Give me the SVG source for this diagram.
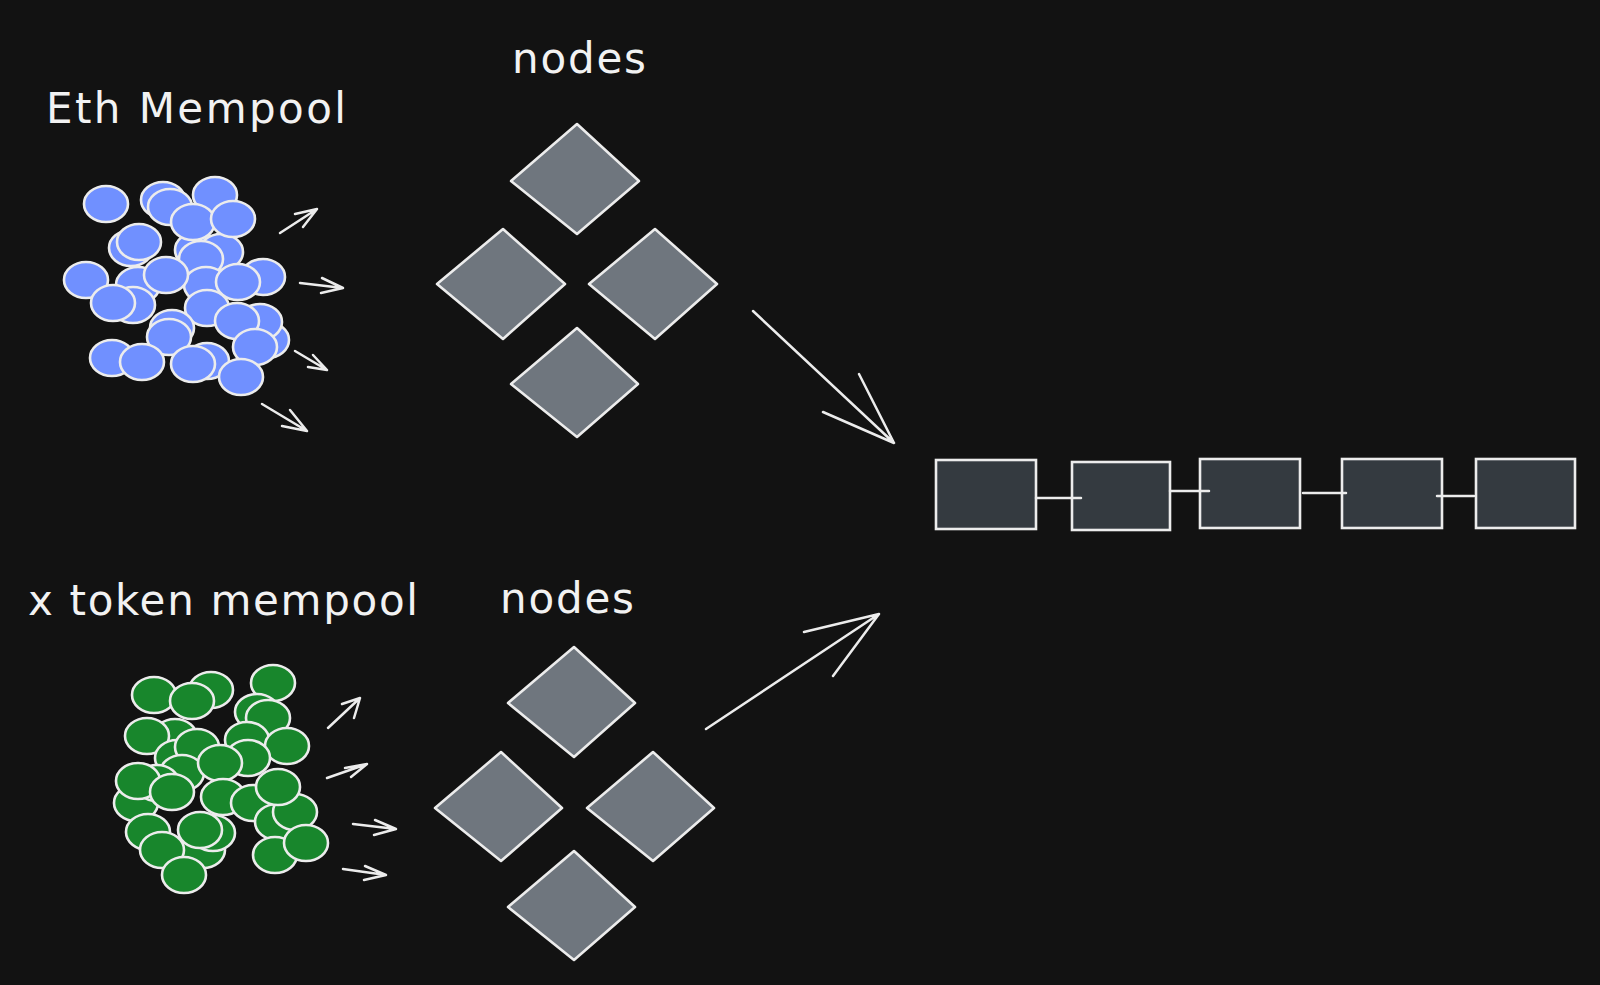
<svg xmlns="http://www.w3.org/2000/svg" width="1600" height="985" viewBox="0 0 1600 985">
<style>
.bg{fill:#121212}
.t{font-family:"DejaVu Sans","Liberation Sans",sans-serif;font-size:42px;fill:#f2f2f2}
.b{fill:#7090ff;stroke:#ececec;stroke-width:2.6}
.g{fill:#18862c;stroke:#ececec;stroke-width:2.6}
.d{fill:#6f767e;stroke:#ececec;stroke-width:2.6;stroke-linejoin:round}
.blk{fill:#343a40;stroke:#ececec;stroke-width:2.6}
.ln{fill:none;stroke:#ececec;stroke-width:2.5;stroke-linecap:round;stroke-linejoin:round}
</style>
<rect class="bg" x="0" y="0" width="1600" height="985"/>

<g id="title-eth"><text class="t" x="46" y="123" textLength="300" lengthAdjust="spacing">Eth Mempool</text></g>
<g id="title-nodes-top"><text class="t" x="512" y="73" textLength="134" lengthAdjust="spacing">nodes</text></g>
<g id="title-x"><text class="t" x="28" y="615" textLength="390" lengthAdjust="spacing">x token mempool</text></g>
<g id="title-nodes-bottom"><text class="t" x="500" y="613" textLength="134" lengthAdjust="spacing">nodes</text></g>

<g id="eth-mempool">
<ellipse class="b" cx="106" cy="204" rx="22" ry="18"/>
<ellipse class="b" cx="163" cy="200" rx="22" ry="18"/>
<ellipse class="b" cx="170" cy="207" rx="22" ry="18"/>
<ellipse class="b" cx="215" cy="195" rx="22" ry="18"/>
<ellipse class="b" cx="131" cy="248" rx="22" ry="18"/>
<ellipse class="b" cx="139" cy="242" rx="22" ry="18"/>
<ellipse class="b" cx="197" cy="250" rx="22" ry="18"/>
<ellipse class="b" cx="221" cy="252" rx="22" ry="18"/>
<ellipse class="b" cx="201" cy="259" rx="22" ry="18"/>
<ellipse class="b" cx="193" cy="222" rx="22" ry="18"/>
<ellipse class="b" cx="233" cy="219" rx="22" ry="18"/>
<ellipse class="b" cx="86" cy="280" rx="22" ry="18"/>
<ellipse class="b" cx="138" cy="285" rx="22" ry="18"/>
<ellipse class="b" cx="133" cy="305" rx="22" ry="18"/>
<ellipse class="b" cx="113" cy="303" rx="22" ry="18"/>
<ellipse class="b" cx="206" cy="285" rx="22" ry="18"/>
<ellipse class="b" cx="166" cy="275" rx="22" ry="18"/>
<ellipse class="b" cx="263" cy="277" rx="22" ry="18"/>
<ellipse class="b" cx="238" cy="282" rx="22" ry="18"/>
<ellipse class="b" cx="207" cy="308" rx="22" ry="18"/>
<ellipse class="b" cx="267" cy="340" rx="22" ry="18"/>
<ellipse class="b" cx="260" cy="322" rx="22" ry="18"/>
<ellipse class="b" cx="237" cy="321" rx="22" ry="18"/>
<ellipse class="b" cx="255" cy="347" rx="22" ry="18"/>
<ellipse class="b" cx="172" cy="328" rx="22" ry="18"/>
<ellipse class="b" cx="169" cy="337" rx="22" ry="18"/>
<ellipse class="b" cx="112" cy="358" rx="22" ry="18"/>
<ellipse class="b" cx="142" cy="362" rx="22" ry="18"/>
<ellipse class="b" cx="207" cy="361" rx="22" ry="18"/>
<ellipse class="b" cx="193" cy="364" rx="22" ry="18"/>
<ellipse class="b" cx="241" cy="377" rx="22" ry="18"/>
</g>

<g id="x-token-mempool">
<ellipse class="g" cx="211" cy="690" rx="22" ry="18"/>
<ellipse class="g" cx="154" cy="695" rx="22" ry="18"/>
<ellipse class="g" cx="192" cy="701" rx="22" ry="18"/>
<ellipse class="g" cx="273" cy="683" rx="22" ry="18"/>
<ellipse class="g" cx="257" cy="712" rx="22" ry="18"/>
<ellipse class="g" cx="268" cy="718" rx="22" ry="18"/>
<ellipse class="g" cx="175" cy="737" rx="22" ry="18"/>
<ellipse class="g" cx="147" cy="736" rx="22" ry="18"/>
<ellipse class="g" cx="247" cy="740" rx="22" ry="18"/>
<ellipse class="g" cx="287" cy="746" rx="22" ry="18"/>
<ellipse class="g" cx="177" cy="758" rx="22" ry="18"/>
<ellipse class="g" cx="197" cy="747" rx="22" ry="18"/>
<ellipse class="g" cx="248" cy="758" rx="22" ry="18"/>
<ellipse class="g" cx="182" cy="773" rx="22" ry="18"/>
<ellipse class="g" cx="220" cy="763" rx="22" ry="18"/>
<ellipse class="g" cx="136" cy="803" rx="22" ry="18"/>
<ellipse class="g" cx="157" cy="783" rx="22" ry="18"/>
<ellipse class="g" cx="138" cy="781" rx="22" ry="18"/>
<ellipse class="g" cx="172" cy="792" rx="22" ry="18"/>
<ellipse class="g" cx="223" cy="797" rx="22" ry="18"/>
<ellipse class="g" cx="253" cy="803" rx="22" ry="18"/>
<ellipse class="g" cx="277" cy="822" rx="22" ry="18"/>
<ellipse class="g" cx="295" cy="812" rx="22" ry="18"/>
<ellipse class="g" cx="278" cy="787" rx="22" ry="18"/>
<ellipse class="g" cx="148" cy="832" rx="22" ry="18"/>
<ellipse class="g" cx="203" cy="850" rx="22" ry="18"/>
<ellipse class="g" cx="213" cy="833" rx="22" ry="18"/>
<ellipse class="g" cx="200" cy="830" rx="22" ry="18"/>
<ellipse class="g" cx="162" cy="850" rx="22" ry="18"/>
<ellipse class="g" cx="275" cy="855" rx="22" ry="18"/>
<ellipse class="g" cx="306" cy="843" rx="22" ry="18"/>
<ellipse class="g" cx="184" cy="875" rx="22" ry="18"/>
</g>

<g id="nodes-top">
<polygon class="d" points="577,124 639,181 577,234 511,181"/>
<polygon class="d" points="503,229 565,284 503,339 437,284"/>
<polygon class="d" points="655,229 717,284 655,339 589,284"/>
<polygon class="d" points="577,328 638,384 577,437 511,384"/>
</g>

<g id="nodes-bottom">
<polygon class="d" points="574,647 635,703 574,757 508,703"/>
<polygon class="d" points="501,752 562,808 501,861 435,808"/>
<polygon class="d" points="653,752 714,808 653,861 587,808"/>
<polygon class="d" points="574,851 635,907 574,960 508,907"/>
</g>

<g id="blockchain">
<rect class="blk" x="936" y="460" width="100" height="69"/>
<rect class="blk" x="1072" y="462" width="98" height="68"/>
<rect class="blk" x="1200" y="459" width="100" height="69"/>
<rect class="blk" x="1342" y="459" width="100" height="69"/>
<rect class="blk" x="1476" y="459" width="99" height="69"/>
</g>

<g id="connectors">
<path class="ln" d="M280,233 L317,209 M295,214 L317,209 L303,227"/>
<path class="ln" d="M300,283 L343,288 M322,278 L343,288 L321,293"/>
<path class="ln" d="M295,351 L327,370 M313,355 L327,370 L308,367"/>
<path class="ln" d="M262,404 L307,431 M290,410 L307,431 L282,426"/>
<path class="ln" d="M328,728 L360,698 M342,704 L360,698 L354,718"/>
<path class="ln" d="M327,778 L367,764 M345,768 L367,764 L351,777"/>
<path class="ln" d="M353,824 L396,829 M375,820 L396,829 L374,835"/>
<path class="ln" d="M343,869 L386,875 M365,866 L386,875 L364,880"/>
<path class="ln" d="M753,311 L894,443 M859,374 L894,443 L823,412"/>
<path class="ln" d="M706,729 L879,614 M804,632 L879,614 L833,676"/>
<path class="ln" d="M1036,498 L1081,498"/>
<path class="ln" d="M1170,491 L1209,491"/>
<path class="ln" d="M1303,493 L1346,493"/>
<path class="ln" d="M1437,496 L1474,496"/>
</g>
</svg>
